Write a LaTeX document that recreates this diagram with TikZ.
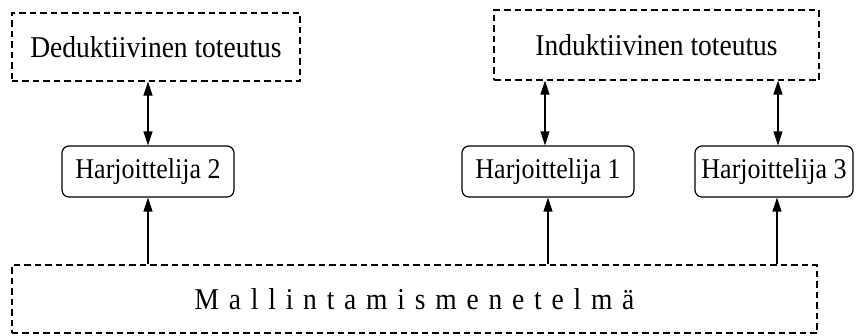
\documentclass[tikz,border=0pt]{standalone}
\usepackage{fontspec}
\setmainfont{Liberation Serif}
\usetikzlibrary{arrows.meta}

% labels are set slightly taller than the font's natural shape
\newcommand\tall[1]{\scalebox{1}[1.1]{#1}}

% letter-spaced text: a fixed gap between consecutive characters
\newcommand\spreadtext[1]{\spreadA#1\relax}
\def\spreadA#1{\ifx\relax#1\else #1\expandafter\spreadB\fi}
\def\spreadB#1{\ifx\relax#1\else\hspace{9.8bp}#1\expandafter\spreadB\fi}

\tikzset{
  dashbox/.style={draw, line width=1.3bp, dash pattern=on 6.5bp off 4bp,
    inner sep=0pt, font=\fontsize{27.5bp}{30bp}\selectfont},
  trainer/.style={draw, line width=1.2bp, rounded corners=7bp,
    minimum height=51bp, inner sep=0pt, font=\fontsize{26bp}{30bp}\selectfont},
  link/.style={line width=1.3bp},
  tip/.style={-{Triangle[length=14bp,width=9bp]}},
  dtip/.style={{Triangle[length=14bp,width=9bp]}-{Triangle[length=14bp,width=9bp]}}
}

\begin{document}
\begin{tikzpicture}[x=1bp,y=-1bp]
  \useasboundingbox (0,0) rectangle (864,335);

  % implementations (top row)
  \node[dashbox, minimum width=288bp, minimum height=68bp] (ded) at (156,47) {\tall{Deduktiivinen toteutus}};
  \node[dashbox, minimum width=325bp, minimum height=70bp] (ind) at (656.5,45) {\tall{Induktiivinen toteutus}};

  % trainers (middle row)
  \node[trainer, minimum width=172bp] (h2) at (148,171.5) {\tall{Harjoittelija 2}};
  \node[trainer, minimum width=172bp] (h1) at (548,171.5) {\tall{Harjoittelija 1}};
  \node[trainer, minimum width=158bp] (h3) at (774,171.5) {\tall{Harjoittelija 3}};

  % modelling method (bottom)
  \node[dashbox, minimum width=805bp, minimum height=68bp] (mall) at (414.5,299)
    {\tall{\spreadtext{Mallintamismenetelmä}}};

  % trainer <-> implementation
  \draw[link, dtip] (h2.north) -- (h2.north |- ded.south);
  \draw[link, dtip] ([xshift=-3bp]h1.north) -- ([xshift=-3bp]h1.north |- ind.south);
  \draw[link, dtip] ([xshift=4bp]h3.north) -- ([xshift=4bp]h3.north |- ind.south);

  % method -> trainer
  \draw[link, tip] (h2.south |- mall.north) -- (h2.south);
  \draw[link, tip] (h1.south |- mall.north) -- (h1.south);
  \draw[link, tip] ([xshift=3bp]h3.south |- mall.north) -- ([xshift=3bp]h3.south);
\end{tikzpicture}
\end{document}
